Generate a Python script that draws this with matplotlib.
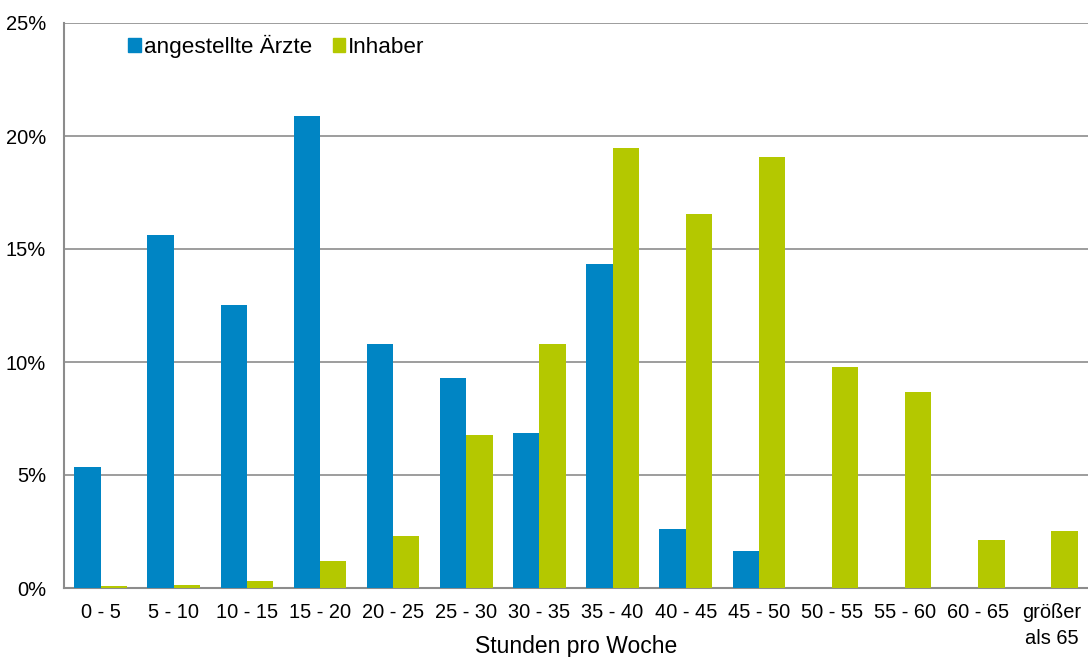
import matplotlib
matplotlib.use("Agg")
import matplotlib.pyplot as plt
import numpy as np
from matplotlib.ticker import FuncFormatter, MultipleLocator
from matplotlib.patches import Patch

plt.rcParams['font.family'] = ['Liberation Sans', 'DejaVu Sans']

categories = ["0 - 5", "5 - 10", "10 - 15", "15 - 20", "20 - 25", "25 - 30", "30 - 35",
              "35 - 40", "40 - 45", "45 - 50", "50 - 55", "55 - 60", "60 - 65", "größer\nals 65"]
angestellte = [5.35, 15.62, 12.52, 20.88, 10.8, 9.29, 6.86, 14.34, 2.61, 1.64, 0, 0, 0, 0]
inhaber = [0.08, 0.12, 0.3, 1.2, 2.3, 6.77, 10.8, 19.47, 16.55, 19.07, 9.78, 8.67, 2.12, 2.52]

blue = "#0085C4"
green = "#B4C800"

fig = plt.figure(figsize=(10.88, 6.57), dpi=100)
ax = fig.add_axes([64/1088, 69/657, 1 - 64/1088, (588-23)/657])

x = np.arange(len(categories))
w = 0.36
ax.bar(x - w/2, angestellte, w, color=blue, zorder=3)
ax.bar(x + w/2, inhaber, w, color=green, zorder=3)

ax.set_xlim(-0.5, len(categories) - 0.5)
ax.set_ylim(0, 25)
ax.yaxis.set_major_locator(MultipleLocator(5))
ax.yaxis.set_major_formatter(FuncFormatter(lambda v, p: f"{int(v)}%"))
ax.grid(axis='y', color='#8C8C8C', linewidth=1.2, zorder=0)
ax.set_xticks(x)
ax.set_xticklabels(categories, fontsize=14.4, linespacing=1.45)
ax.tick_params(axis='y', labelsize=14.5, length=0, pad=13)
ax.tick_params(axis='x', length=0, pad=11)
for s in ['top', 'right']:
    ax.spines[s].set_visible(False)
ax.spines['left'].set_color('#8C8C8C')
ax.spines['left'].set_linewidth(1.5)
ax.spines['bottom'].set_color('#8C8C8C')
ax.spines['bottom'].set_linewidth(1.5)
ax.set_xlabel("Stunden pro Woche", fontsize=16.5)
ax.xaxis.set_label_coords(0.5, -0.104)
ax.xaxis.label.set_verticalalignment('center')

handles = [Patch(color=blue, label="angestellte Ärzte"), Patch(color=green, label="Inhaber")]
ax.legend(handles=handles, loc='upper left', bbox_to_anchor=(0.043, 1.015), frameon=False,
          fontsize=16.2, ncol=2, handlelength=0.55, handleheight=0.55, handletextpad=0.15,
          columnspacing=0.9)

fig.savefig("out.png", dpi=100)
